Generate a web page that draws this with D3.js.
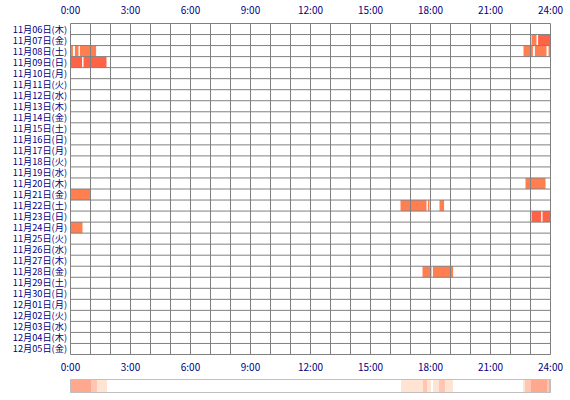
<!DOCTYPE html>
<html><head><meta charset="utf-8">
<script src="https://cdn.jsdelivr.net/npm/d3@7"></script>
<style>body{margin:0;background:#fff}text{font-family:"Noto Sans CJK JP",sans-serif;font-size:10px;fill:#000080}.day{font-size:9.2px}</style>
</head><body><svg id="c" width="570" height="400"></svg>
<script>
const wk = ["日", "月", "火", "水", "木", "金", "土"];
const days = [];
for (let i = 0; i < 30; i++) {
  const d = new Date(2025, 10, 6 + i);
  days.push(`${d.getMonth() + 1}月${String(d.getDate()).padStart(2, "0")}日(${wk[d.getDay()]})`);
}
const hourTicks = [0, 3, 6, 9, 12, 15, 18, 21, 24];
// [day index, start hour, end hour, dark?]
const sessions = [
  [1, 23.05, 23.3, 0], [1, 23.38, 24, 1],
  [2, 0.0, 0.12, 0], [2, 0.22, 0.4, 0], [2, 0.47, 1.28, 0],
  [2, 22.65, 23.12, 0], [2, 23.22, 23.8, 0], [2, 23.9, 24, 0],
  [3, 0.0, 0.58, 1], [3, 0.65, 1.8, 1],
  [14, 22.75, 23.75, 0],
  [15, 0.0, 1.0, 0],
  [16, 16.5, 17.8, 0], [16, 17.87, 17.95, 0], [16, 18.45, 18.68, 0],
  [17, 23.05, 23.53, 1], [17, 23.6, 24, 1],
  [18, 0.0, 0.6, 0],
  [22, 17.6, 18.05, 0], [22, 18.12, 19.13, 0]
];

const svg = d3.select("#c");
const x = d3.scaleLinear().domain([0, 24]).range([70.5, 550.5]);
const y = d3.scaleBand().domain(days).range([23.5, 354.5]);

svg.append("g").selectAll("rect").data(sessions).enter().append("rect")
  .attr("x", d => x(d[1])).attr("width", d => x(d[2]) - x(d[1]))
  .attr("y", d => y(days[d[0]])).attr("height", y.bandwidth())
  .attr("fill", d => d[3] ? "#ff6347" : "#ff7f50");

const grid = svg.append("g").attr("stroke", "#808080").attr("stroke-width", 1);
d3.range(25).forEach(h => grid.append("line").attr("x1", x(h)).attr("x2", x(h)).attr("y1", 23.5).attr("y2", 354.5));
days.concat([null]).forEach((d, i) => {
  const yy = d ? y(d) : 354.5;
  grid.append("line").attr("x1", 70.5).attr("x2", 550.5).attr("y1", yy).attr("y2", yy);
});

svg.append("g").selectAll("text").data(days).enter().append("text")
  .attr("class", "day")
  .attr("x", 67).attr("y", d => y(d) + y.bandwidth() / 2 + 3.5)
  .attr("text-anchor", "end").text(d => d);

[14, 371].forEach(ty => svg.append("g").selectAll("text").data(hourTicks).enter().append("text")
  .attr("x", d => x(d)).attr("y", ty).attr("text-anchor", "middle").text(d => d + ":00"));

// density strip, 0.1h bins
const bins = d3.range(240).map(b => {
  const t = b / 10 + 0.05;
  return sessions.filter(s => t >= s[1] && t < s[2]).length;
});
svg.append("g").attr("shape-rendering", "crispEdges").selectAll("rect").data(bins).enter().append("rect")
  .attr("x", (d, i) => x(i / 10)).attr("width", x(0.1) - x(0))
  .attr("y", 380).attr("height", 12)
  .attr("fill", d => d3.interpolateRgb("#ffe4d4", "#ffa890")(Math.min(1, (d - 1) / 2)))
  .attr("fill-opacity", d => d ? 1 : 0);
svg.append("rect").attr("x", 70.5).attr("y", 379.5).attr("width", 480).attr("height", 13)
  .attr("fill", "none").attr("stroke", "#c0c0c0");
</script></body></html>
